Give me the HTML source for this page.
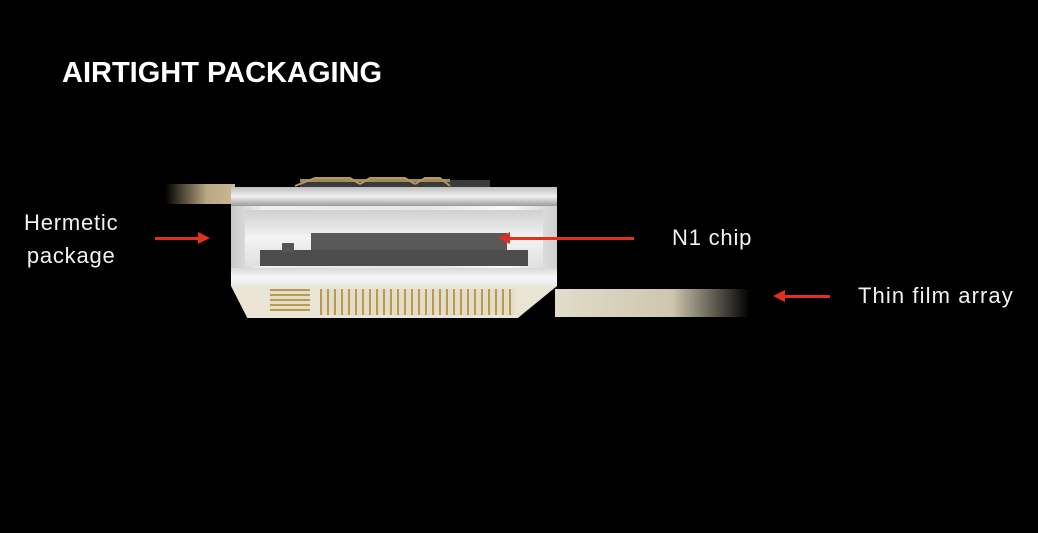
<!DOCTYPE html>
<html><head><style>
body{margin:0;width:1038px;height:533px;background:#000;position:relative;overflow:hidden;font-family:"Liberation Sans",sans-serif;color:#fff}
.a{position:absolute}
.t{font-size:22px;color:#f2f2f2;letter-spacing:0.8px}
.arr{position:absolute;height:3px;background:#e0301e}
</style></head><body>
<div class="a" style="left:62px;top:57px;font-size:29px;font-weight:bold;">AIRTIGHT PACKAGING</div>
<div class="a t" style="left:24px;top:206px;line-height:33px;text-align:center">Hermetic<br>package</div>
<div class="a t" style="left:672px;top:225px">N1 chip</div>
<div class="a t" style="left:858px;top:283px;letter-spacing:1.1px">Thin film array</div>
<div class="a" style="left:165px;top:184px;width:70px;height:20px;background:linear-gradient(90deg,rgba(0,0,0,1),#b8a882 60%,#c9b88f);"></div>
<div class="a" style="left:300px;top:180px;width:190px;height:8px;background:#3a3a3a"></div>
<div class="a" style="left:300px;top:179px;width:150px;height:3px;background:#a08a5a"></div>
<div class="a" style="left:555px;top:289px;width:195px;height:28px;background:linear-gradient(90deg,#e2dccb,#cfc6ae 60%,rgba(0,0,0,1))"></div>
<div class="a" style="left:231px;top:187px;width:326px;height:19px;background:linear-gradient(180deg,#bdbdbd,#f0f0f0 50%,#9a9a9a)"></div>
<div class="a" style="left:231px;top:206px;width:326px;height:62px;background:linear-gradient(90deg,#c8c8c8,#efefef 10%,#e6e6e6 60%,#fafafa 85%,#cfcfcf)"></div>
<div class="a" style="left:245px;top:210px;width:298px;height:56px;background:linear-gradient(180deg,#d0d0d0,#f3f3f3 50%,#e0e0e0)"></div>
<div class="a" style="left:311px;top:233px;width:196px;height:20px;background:#595959"></div>
<div class="a" style="left:260px;top:250px;width:268px;height:16px;background:#4d4d4d"></div>
<div class="a" style="left:282px;top:243px;width:12px;height:9px;background:#555"></div>
<div class="a" style="left:231px;top:268px;width:326px;height:18px;background:linear-gradient(180deg,#d8d8d8,#f7f7f7 50%,#e8e8e8)"></div>
<div class="a" style="left:231px;top:286px;width:326px;height:32px;background:#e9e4d4;clip-path:polygon(0 0,100% 0,88% 100%,5% 100%)"></div>
<div class="a" style="left:320px;top:289px;width:195px;height:26px;background:repeating-linear-gradient(90deg,#b99a55 0 2px,#e4ddc8 2px 7px)"></div>
<div class="a" style="left:270px;top:289px;width:40px;height:22px;background:repeating-linear-gradient(0deg,#b99a55 0 2px,#e4ddc8 2px 5px)"></div>
<div class="arr" style="left:155px;top:237px;width:45px"></div>
<div class="a" style="left:198px;top:232px;border-left:12px solid #e0301e;border-top:6px solid transparent;border-bottom:6px solid transparent"></div>
<div class="arr" style="left:510px;top:237px;width:124px"></div>
<div class="a" style="left:498px;top:232px;border-right:12px solid #e0301e;border-top:6px solid transparent;border-bottom:6px solid transparent"></div>
<div class="arr" style="left:785px;top:295px;width:45px"></div>
<div class="a" style="left:773px;top:290px;border-right:12px solid #e0301e;border-top:6px solid transparent;border-bottom:6px solid transparent"></div>
<svg class="a" style="left:290px;top:172px" width="180" height="16"><path d="M5 14 L25 6 L60 6 L70 12 M70 12 L80 6 L115 6 L125 12 M125 12 L135 6 L150 6 L160 14" stroke="#b09a60" stroke-width="2" fill="none"/></svg>
</body></html>
